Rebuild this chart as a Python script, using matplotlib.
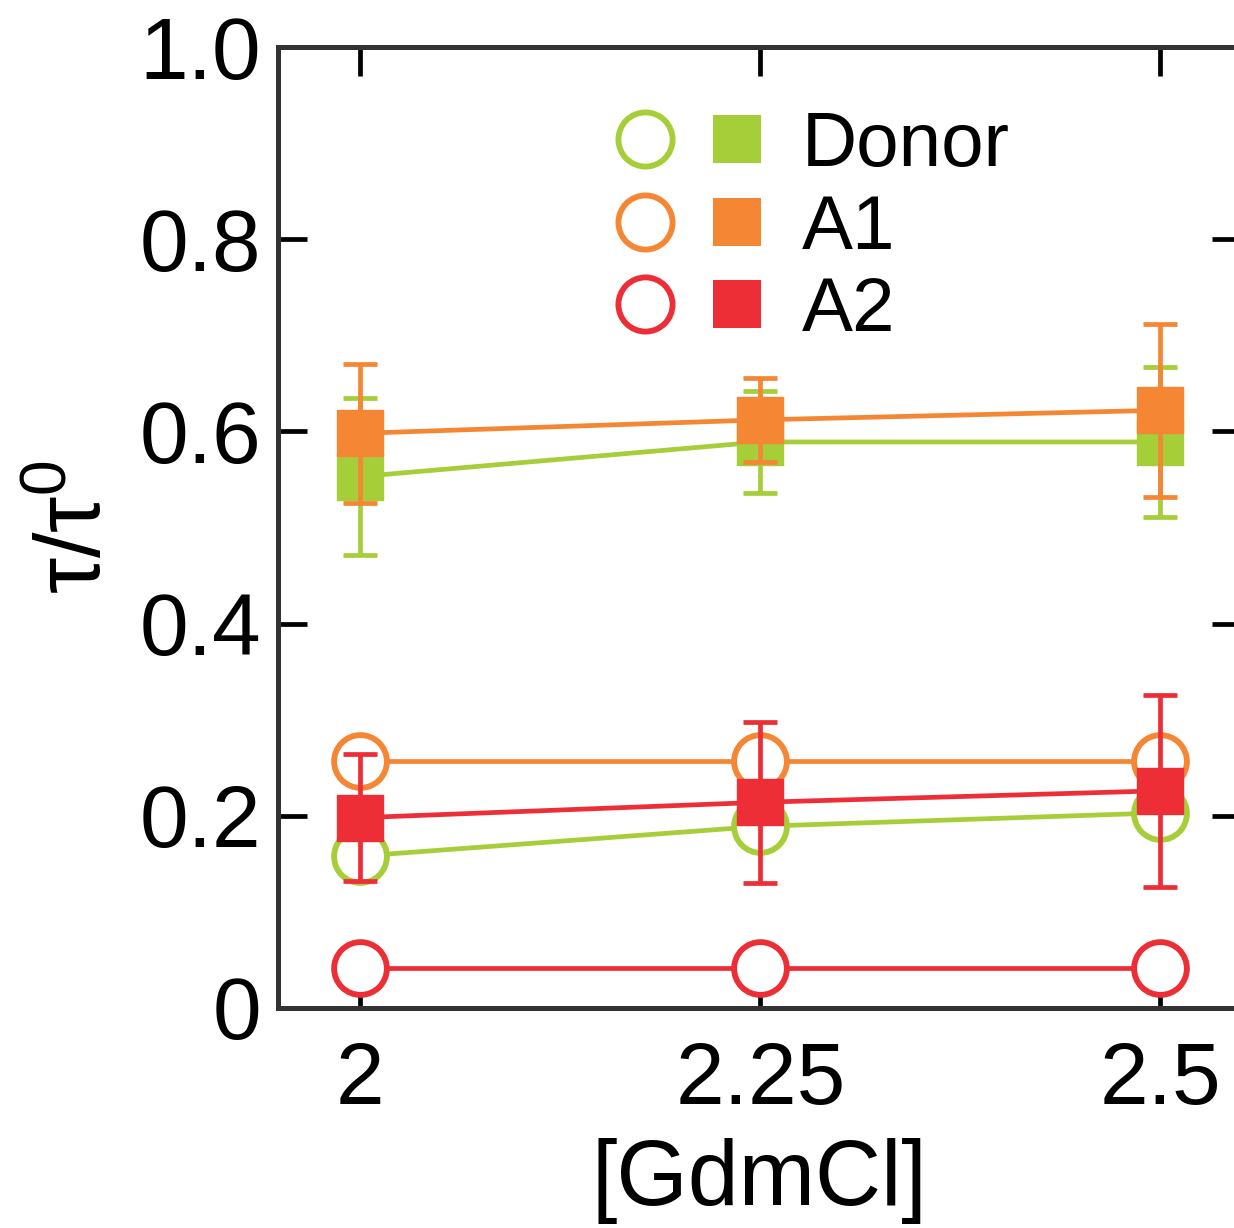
import matplotlib

matplotlib.use("Agg")
import matplotlib.pyplot as plt
from matplotlib.legend_handler import HandlerTuple
from matplotlib.lines import Line2D

plt.rcParams["font.family"] = ["Liberation Sans", "DejaVu Sans"]
plt.rcParams["mathtext.default"] = "regular"

gdmcl = [2.0, 2.25, 2.5]
names = ["Donor", "A1", "A2"]
colors = ["#a6ce39", "#f58634", "#ed2e37"]

# open circles (no error bars)
open_vals = {
    "Donor": [0.158, 0.189, 0.203],
    "A1": [0.257, 0.257, 0.257],
    "A2": [0.042, 0.042, 0.042],
}
# filled squares with error bars
filled_vals = {
    "Donor": [0.553, 0.589, 0.589],
    "A1": [0.598, 0.612, 0.622],
    "A2": [0.198, 0.214, 0.226],
}
filled_err = {
    "Donor": [0.082, 0.053, 0.078],
    "A1": [0.072, 0.044, 0.090],
    "A2": [0.066, 0.084, 0.100],
}

fig = plt.figure(figsize=(12.34, 12.28), dpi=100)
ax = fig.add_axes([0.2253, 0.1792, 0.78, 0.7825])

lw = 3.4
for name, c in zip(names, colors):
    ax.plot(gdmcl, open_vals[name], "-o", color=c, lw=lw, ms=38,
            mfc="white", mec=c, mew=4.2, zorder=2)

for i, (name, c) in enumerate(zip(names, colors)):
    ax.errorbar(gdmcl, filled_vals[name], yerr=filled_err[name], fmt="-s",
                color=c, lw=lw, ms=33.5, mfc=c, mec=c, elinewidth=lw,
                capsize=12, capthick=lw, zorder=3 + i)

ax.set_xlim(1.94875, 2.55)
ax.set_ylim(0, 1.0)
ax.set_xticks(gdmcl)
ax.set_xticklabels(["2", "2.25", "2.5"])
ax.set_yticks([0, 0.2, 0.4, 0.6, 0.8, 1.0])
ax.set_yticklabels(["0", "0.2", "0.4", "0.6", "0.8", "1.0"])
ax.tick_params(direction="in", length=21, width=3.4, labelsize=63,
               top=True, right=True, color="black")
ax.tick_params(axis="x", pad=24)
ax.tick_params(axis="y", pad=12)
for s in ax.spines.values():
    s.set_linewidth(3.6)
    s.set_color("#333333")

ax.set_xlabel("[GdmCl]", fontsize=66, labelpad=11)
ax.set_ylabel("τ/τ$^{0}$", fontsize=66, labelpad=14)

handles = []
for c in colors:
    circ = Line2D([], [], ls="none", marker="o", ms=39, mfc="white", mec=c, mew=4.2)
    sq = Line2D([], [], ls="none", marker="s", ms=35, mfc=c, mew=0)
    handles.append((circ, sq))
ax.legend(handles, names, handler_map={tuple: HandlerTuple(ndivide=None, pad=0.4)},
          loc="upper left", bbox_to_anchor=(0.318, 0.965), frameon=False,
          fontsize=55, handlelength=2.0, handletextpad=0.45, labelspacing=0.15,
          borderaxespad=0)

fig.savefig("out.png", dpi=100)
